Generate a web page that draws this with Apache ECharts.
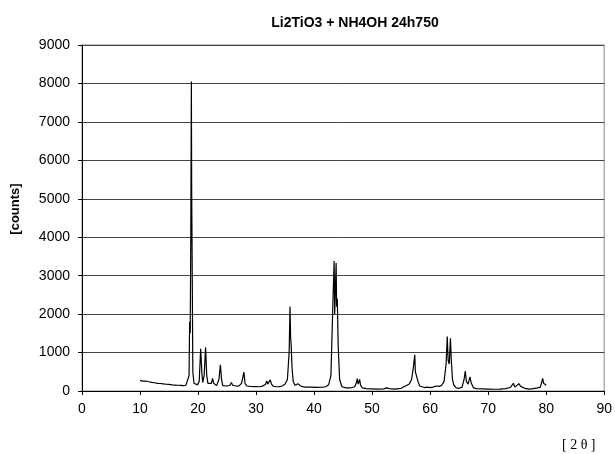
<!DOCTYPE html>
<html>
<head>
<meta charset="utf-8">
<script src="https://cdn.jsdelivr.net/npm/echarts@6/dist/echarts.min.js"></script>
<style>
  html, body { margin: 0; padding: 0; background: #fff; }
  #chart { width: 615px; height: 454px; }
</style>
</head>
<body>
<div id="chart"></div>
<script>
// 2θ positions (deg)
const twoTheta = [
  10.0, 10.3, 10.6, 11.0, 11.5, 12.0, 12.5, 13.0, 13.5, 14.0, 14.5, 15.0, 15.5, 16.0, 16.5, 17.0, 17.5, 17.9,
  18.2, 18.45, 18.55, 18.65, 18.75, 18.85, 18.9, 19.0, 19.1, 19.3, 19.6, 19.9,
  20.2, 20.45, 20.65, 20.8, 21.05, 21.3, 21.5, 21.7, 21.9, 22.3, 22.5, 22.7, 22.9, 23.2, 23.6,
  23.85, 24.05, 24.25, 24.5, 25.0, 25.5, 25.75, 25.95, 26.5, 27.0, 27.5, 27.9, 28.1, 28.4, 29.0,
  30.0, 30.5, 31.0, 31.6, 31.85, 32.0, 32.2, 32.45, 32.65, 33.0, 33.5, 34.0, 34.5, 35.0, 35.4,
  35.7, 35.85, 35.95, 36.05, 36.2, 36.4, 36.7, 37.0, 37.2, 37.35, 37.5, 37.8, 38.5, 39.5, 40.5,
  41.5, 42.0, 42.5, 42.9, 43.1, 43.3, 43.45, 43.55, 43.68, 43.8, 43.88, 44.0, 44.15, 44.4, 44.8,
  45.5, 46.0, 46.6, 47.0, 47.25, 47.45, 47.6, 47.85, 48.0, 48.3, 49.0, 50.0, 51.0, 52.0, 52.5,
  52.7, 52.9, 53.5, 54.0, 54.5, 55.0, 55.5, 56.0, 56.4, 56.8, 57.1, 57.35, 57.45, 57.6, 57.75,
  57.9, 58.2, 58.5, 59.0, 59.5, 60.0, 60.5, 61.0, 61.3, 61.6, 62.0, 62.4, 62.75, 62.95, 63.1,
  63.3, 63.5, 63.65, 63.85, 64.1, 64.5, 65.0, 65.5, 65.85, 66.05, 66.25, 66.55, 66.85, 67.1, 67.5,
  68.0, 69.0, 70.0, 71.0, 72.0, 73.0, 73.8, 74.1, 74.35, 74.6, 74.9, 75.3, 75.6, 75.9, 76.3,
  77.0, 77.8, 78.5, 79.0, 79.25, 79.4, 79.55, 79.7, 79.85, 80.0
];
// intensities [counts]
const counts = [
  270, 280, 255, 260, 240, 225, 215, 200, 195, 185, 175, 170, 160, 155, 150, 145, 140, 150,
  200, 400, 1800, 1500, 4000, 8050, 5300, 3000, 500, 200, 150, 160,
  250, 1100, 500, 220, 400, 1130, 400, 200, 200, 200, 330, 200, 150, 140, 300,
  680, 300, 140, 130, 130, 150, 220, 150, 130, 125, 200, 490, 200, 130, 120,
  115, 110, 120, 170, 260, 180, 210, 290, 180, 120, 110, 115, 130, 180, 300,
  1000, 2200, 1400, 1200, 600, 250, 150, 140, 190, 240, 170, 120, 100, 100, 95,
  100, 110, 160, 400, 1500, 2600, 3380, 2000, 2700, 3330, 2200, 2400, 1200, 300, 110,
  80, 80, 90, 110, 200, 320, 180, 300, 160, 80, 60, 55, 50, 55, 80,
  120, 60, 55, 50, 60, 70, 110, 150, 180, 300, 600, 940, 500, 420, 380,
  250, 130, 100, 90, 100, 90, 100, 130, 170, 120, 150, 250, 700, 1420, 800,
  700, 1370, 800, 300, 150, 80, 70, 100, 300, 520, 250, 180, 370, 200, 80,
  60, 55, 50, 45, 50, 60, 90, 140, 200, 100, 120, 190, 120, 100, 70,
  50, 60, 80, 100, 150, 330, 200, 230, 160, 150
];
const xTicks = [0, 10, 20, 30, 40, 50, 60, 70, 80, 90];
const yTicks = [0, 1000, 2000, 3000, 4000, 5000, 6000, 7000, 8000, 9000];

const chart = echarts.init(document.getElementById('chart'));
const font = 'Arial, "Liberation Sans", sans-serif';

chart.setOption({
  animation: false,
  backgroundColor: '#fff',
  title: [
    {
      text: 'Li2TiO3 + NH4OH 24h750',
      left: 350, top: 11, textAlign: 'center',
      textStyle: { fontFamily: font, fontSize: 14, fontWeight: 'bold', color: '#000' }
    },
    {
      text: '[ 2 θ ]',
      left: 557, top: 433,
      textStyle: { fontFamily: '"Liberation Serif", "DejaVu Serif", serif', fontSize: 14, fontWeight: 'normal', color: '#000' }
    }
  ],
  // y-axis name sits a little above the plot centre in the reference
  graphic: [
    {
      type: 'text',
      x: 15, y: 209,
      rotation: Math.PI / 2,
      style: {
        text: '[counts]',
        font: 'bold 13px Arial, "Liberation Sans", sans-serif',
        fill: '#000',
        align: 'center',
        verticalAlign: 'middle'
      }
    }
  ],
  grid: {
    left: 82, right: 8, top: 45, bottom: 63,
    show: true, borderColor: '#888', borderWidth: 1
  },
  xAxis: {
    type: 'value',
    min: xTicks[0], max: xTicks[xTicks.length - 1], interval: 10,
    axisLine: { show: true, lineStyle: { color: '#000', width: 1 } },
    axisTick: { show: true, length: 4, lineStyle: { color: '#000' } },
    axisLabel: { color: '#000', fontFamily: font, fontSize: 14, margin: 11 },
    splitLine: { show: false }
  },
  yAxis: {
    type: 'value',
    min: yTicks[0], max: yTicks[yTicks.length - 1], interval: 1000,
    axisLine: { show: true, lineStyle: { color: '#000', width: 1 } },
    axisTick: { show: true, length: 4, lineStyle: { color: '#000' } },
    axisLabel: { color: '#000', fontFamily: font, fontSize: 14, margin: 12, formatter: v => String(v) },
    splitLine: { show: true, lineStyle: { color: '#444', width: 1 } }
  },
  series: [
    {
      type: 'line',
      data: twoTheta.map((t, i) => [t, counts[i]]),
      symbol: 'none',
      smooth: false,
      lineStyle: { color: '#000', width: 1.2 }
    }
  ]
});
</script>
</body>
</html>
